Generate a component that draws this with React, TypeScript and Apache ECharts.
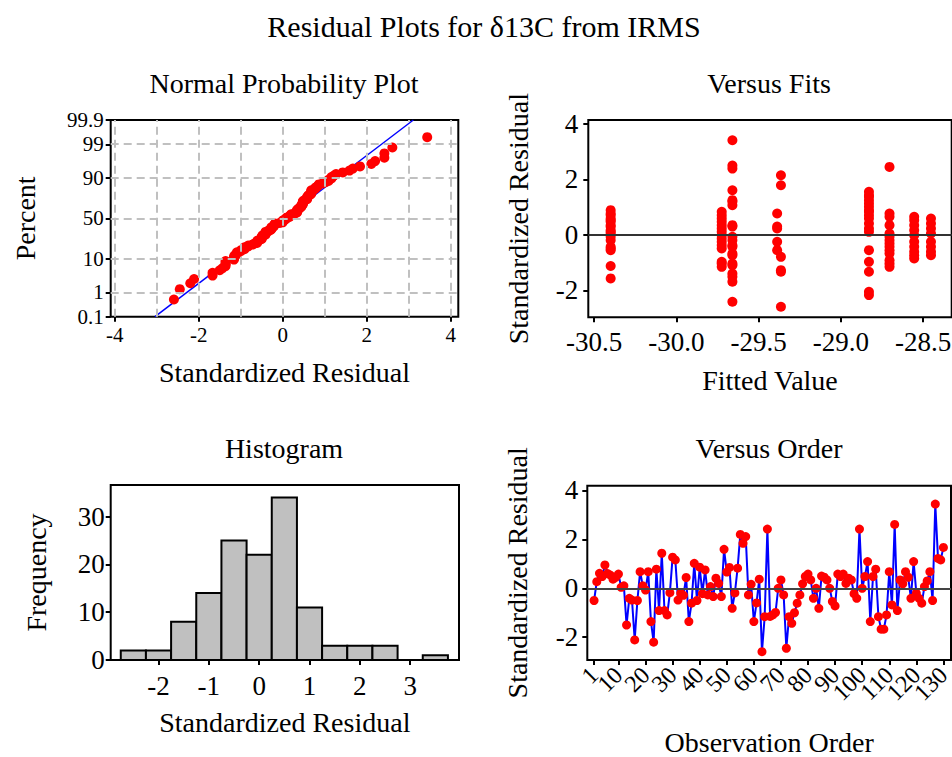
import React, { useEffect, useRef } from "react";
import * as echarts from "echarts";

const FONT = '"Liberation Serif", "Times New Roman", serif';

const mainTitle = "Residual Plots for δ13C from IRMS";
const panelTitles = ["Normal Probability Plot", "Versus Fits", "Histogram", "Versus Order"];

// Standardized residuals in observation order (1..130)
const orderResiduals = [
  -0.5, 0.27, 0.61, 0.48, 0.95, 0.6, 0.54, 0.37, 0.45, 0.58,
  0.04, 0.1, -1.5, -0.41, -0.48, -2.11, -0.5, 0.68, 0.1, -0.07,
  0.68, -1.36, -2.2, 0.78, -0.91, 1.43, -0.91, -1.09, -0.18, 1.27,
  1.16, -0.48, -0.2, -0.29, 0.44, -1.36, -0.61, 1.02, -0.5, 0.86,
  -0.22, 0.75, -0.27, 0.07, -0.34, 0.41, 0.2, -0.34, 1.59, 0.66,
  0.85, -0.82, -0.19, 0.82, 2.2, 1.84, 2.11, -0.27, 0.16, -1.36,
  -0.6, 0.37, -2.59, -1.16, 2.42, -1.15, -1.09, -0.99, 0.0, 0.34,
  -0.27, -2.45, -1.16, -1.43, -1.0, -0.61, -0.27, 0.18, 0.48, 0.58,
  0.34, -0.41, 0.0, -0.82, 0.5, 0.45, 0.34, 0.0, -0.54, -0.72,
  0.58, 0.48, 0.58, 0.2, 0.41, 0.34, -0.22, -0.41, 2.42, 0.0,
  0.48, 1.09, -1.36, 0.48, 0.78, -1.16, -1.67, -1.67, -1.09, 0.68,
  -0.68, 2.61, -0.91, 0.34, 0.18, 0.68, 0.45, -0.41, 1.09, -0.2,
  -0.41, -0.61, 0.07, 0.3, 0.68, -0.5, 3.44, 1.22, 1.16, 1.67,
];
const orderTicks = [1, 10, 20, 30, 40, 50, 60, 70, 80, 90, 100, 110, 120, 130];
const residualTicks = [-2, 0, 2, 4];

// Versus fits: fitted value of each column and the residuals in it
const fittedGroups = [-30.4, -29.725, -29.66, -29.388, -29.365, -28.83, -28.705, -28.555, -28.453];
const fittedGroupResiduals = [
  [0.89, 0.77, 0.71, 0.59, 0.53, 0.47, 0.35, 0.29, 0.17, 0.11, 0.05, -0.07, -0.19, -0.43, -0.49, -0.55, -1.12, -1.57],
  [0.83, 0.71, 0.59, 0.47, 0.35, 0.23, 0.11, -0.01, -0.13, -0.25, -0.37, -0.49, -0.97, -1.03, -1.15],
  [3.41, 2.5, 2.39, 1.61, 1.25, 1.19, 1.07, 0.35, 0.3, -0.07, -0.19, -0.37, -0.43, -0.67, -0.73, -1.03, -1.09, -1.39, -1.51, -1.69, -2.41],
  [0.77, 0.3, 0.23, -0.25, -0.55],
  [2.15, 1.79, -0.79, -1.27, -1.33, -2.59],
  [1.55, 1.43, 1.37, 1.25, 1.13, 1.01, 0.89, 0.83, 0.71, 0.59, 0.41, 0.23, 0.11, -0.55, -0.97, -1.33, -2.05, -2.17],
  [2.45, 0.77, 0.65, 0.35, 0.05, -0.07, -0.19, -0.31, -0.43, -0.55, -0.67, -0.91, -1.03, -1.15],
  [0.65, 0.53, 0.35, 0.17, -0.01, -0.25, -0.43, -0.61, -0.73, -0.85],
  [0.59, 0.41, 0.23, 0.05, -0.25, -0.43, -0.61, -0.73],
];
const fittedTicks = [-30.5, -30.0, -29.5, -29.0, -28.5];

// Histogram
const histBinCenters = [-2.5, -2, -1.5, -1, -0.5, 0, 0.5, 1, 1.5, 2, 2.5, 3, 3.5];
const histCounts = [2, 2, 8, 14, 25, 22, 34, 11, 3, 3, 3, 0, 1];
const histBinWidth = 0.5;
const histXTicks = [-2, -1, 0, 1, 2, 3];
const histYTicks = [0, 10, 20, 30];

// Normal probability plot
const nppXTicks = [-4, -2, 0, 2, 4];
const nppXGrid = [-4, -3, -2, -1, 0, 1, 2, 3, 4];
const nppPercentTicks = [0.1, 1, 10, 50, 90, 99, 99.9];
const nppPercentGrid = [1, 10, 50, 90, 99];
const nppFitLine = [
  [-3.04, 0.1],
  [3.11, 99.9],
]; // [residual, percent]

function probit(p: number): number {
  const a = [-39.69683028665376, 220.9460984245205, -275.9285104469687, 138.357751867269, -30.66479806614716, 2.506628277459239];
  const b = [-54.47609879822406, 161.5858368580409, -155.6989798598866, 66.80131188771972, -13.28068155288572];
  const c = [-0.007784894002430293, -0.3223964580411365, -2.400758277161838, -2.549732539343734, 4.374664141464968, 2.938163982698783];
  const d = [0.007784695709041462, 0.3224671290700398, 2.445134137142996, 3.754408661907416];
  const pl = 0.02425;
  if (p < pl) {
    const q = Math.sqrt(-2 * Math.log(p));
    return (((((c[0] * q + c[1]) * q + c[2]) * q + c[3]) * q + c[4]) * q + c[5]) / ((((d[0] * q + d[1]) * q + d[2]) * q + d[3]) * q + 1);
  }
  if (p > 1 - pl) {
    const q = Math.sqrt(-2 * Math.log(1 - p));
    return -(((((c[0] * q + c[1]) * q + c[2]) * q + c[3]) * q + c[4]) * q + c[5]) / ((((d[0] * q + d[1]) * q + d[2]) * q + d[3]) * q + 1);
  }
  const q = p - 0.5;
  const r = q * q;
  return ((((((a[0] * r + a[1]) * r + a[2]) * r + a[3]) * r + a[4]) * r + a[5]) * q) / (((((b[0] * r + b[1]) * r + b[2]) * r + b[3]) * r + b[4]) * r + 1);
}

const tickStyle = { show: true, inside: false, length: 5, lineStyle: { color: "#000", width: 2 } };
const nameStyle = { color: "#000", fontFamily: FONT, fontSize: 28 };
const noLine = { show: false, onZero: false };

export default function App() {
  const ref = useRef<HTMLDivElement>(null);

  useEffect(() => {
    document.body.style.margin = "0";
    if (!ref.current) return;
    const chart = echarts.init(ref.current, undefined, { renderer: "svg" });

    const n = orderResiduals.length;
    const sorted = [...orderResiduals].sort((x, y) => x - y);
    const nppPoints = sorted.map((r, i) => [r, probit((i + 1 - 0.3) / (n + 0.4))]);
    const nppYTickZ = nppPercentTicks.map((p) => probit(p / 100));
    const zMin = nppYTickZ[0];
    const zMax = nppYTickZ[nppYTickZ.length - 1];
    // split labels over two overlaid axes so close labels are never dropped
    const nppYZa = nppYTickZ.filter((_, i) => i % 2 === 0);
    const nppYZb = nppYTickZ.filter((_, i) => i % 2 === 1);
    const orderTicksA = orderTicks.filter((_, i) => i % 2 === 0);
    const orderTicksB = orderTicks.filter((_, i) => i % 2 === 1);

    const fitsPoints: number[][] = [];
    fittedGroups.forEach((fx, gi) => {
      fittedGroupResiduals[gi].forEach((r) => fitsPoints.push([fx, r]));
    });

    const orderPoints = orderResiduals.map((r, i) => [i + 1, r]);
    const histData = histBinCenters.map((c, i) => [c, histCounts[i]]);

    const gridBase = { show: true, borderColor: "#000", borderWidth: 2, backgroundColor: "transparent", containLabel: false, outerBoundsMode: "none" };

    const labelStyle = (fontSize: number, margin: number) => ({
      color: "#000", fontFamily: FONT, fontSize, margin, showMinLabel: true, showMaxLabel: true, hideOverlap: false,
    });

    const percentFormatter = (v: number) => {
      let best = 0;
      nppYTickZ.forEach((z, i) => { if (Math.abs(z - v) < Math.abs(nppYTickZ[best] - v)) best = i; });
      return String(nppPercentTicks[best]);
    };

    const option: any = {
      animation: false,
      backgroundColor: "#fff",
      graphic: [
        { type: "text", x: 484, y: 26, style: { text: mainTitle, fontSize: 30, fontFamily: FONT, fill: "#000", align: "center", verticalAlign: "middle" } },
        { type: "text", x: 284, y: 83, style: { text: panelTitles[0], fontSize: 28, fontFamily: FONT, fill: "#000", align: "center", verticalAlign: "middle" } },
        { type: "text", x: 769, y: 83, style: { text: panelTitles[1], fontSize: 28, fontFamily: FONT, fill: "#000", align: "center", verticalAlign: "middle" } },
        { type: "text", x: 284, y: 448, style: { text: panelTitles[2], fontSize: 28, fontFamily: FONT, fill: "#000", align: "center", verticalAlign: "middle" } },
        { type: "text", x: 769, y: 448, style: { text: panelTitles[3], fontSize: 28, fontFamily: FONT, fill: "#000", align: "center", verticalAlign: "middle" } },
      ],
      grid: [
        { ...gridBase, left: 110.7, top: 120, width: 347.6, height: 196.7 },
        { ...gridBase, left: 588.3, top: 120, width: 363.4, height: 197.3 },
        { ...gridBase, left: 110.7, top: 485, width: 348.3, height: 175 },
        { ...gridBase, left: 587.3, top: 485.7, width: 363.7, height: 174.3 },
      ],
      xAxis: [
        {
          gridIndex: 0, type: "value", min: -4.095, max: 4.18,
          axisLine: noLine, splitLine: { show: false },
          axisTick: { ...tickStyle, customValues: nppXTicks },
          axisLabel: { ...labelStyle(21, 8), customValues: nppXTicks },
          name: "Standardized Residual", nameLocation: "middle", nameGap: 42, nameTextStyle: nameStyle,
        },
        {
          gridIndex: 1, type: "value", min: -30.536, max: -28.327,
          axisLine: noLine, splitLine: { show: false },
          axisTick: { ...tickStyle, customValues: fittedTicks },
          axisLabel: { ...labelStyle(27, 11), customValues: fittedTicks, formatter: (v: number) => v.toFixed(1) },
          name: "Fitted Value", nameLocation: "middle", nameGap: 49, nameTextStyle: nameStyle,
        },
        {
          gridIndex: 2, type: "value", min: -2.95, max: 3.97,
          axisLine: noLine, splitLine: { show: false },
          axisTick: { ...tickStyle, customValues: histXTicks },
          axisLabel: { ...labelStyle(27, 12), customValues: histXTicks },
          name: "Standardized Residual", nameLocation: "middle", nameGap: 48, nameTextStyle: nameStyle,
        },
        {
          gridIndex: 3, type: "value", min: -1.5, max: 132.8,
          axisLine: noLine, splitLine: { show: false },
          axisTick: { ...tickStyle, customValues: orderTicks },
          axisLabel: { ...labelStyle(24, 11), customValues: orderTicksA, rotate: 45 },
          name: "Observation Order", nameLocation: "middle", nameGap: 68, nameTextStyle: nameStyle,
        },
        {
          gridIndex: 3, type: "value", min: -1.5, max: 132.8, position: "bottom", offset: 0,
          axisLine: noLine, splitLine: { show: false }, axisTick: { show: false },
          axisLabel: { ...labelStyle(24, 11), customValues: orderTicksB, rotate: 45 },
        },
      ],
      yAxis: [
        {
          gridIndex: 0, type: "value", min: zMin, max: zMax,
          axisLine: noLine, splitLine: { show: false },
          axisTick: { ...tickStyle, customValues: nppYTickZ },
          axisLabel: { ...labelStyle(21, 7), customValues: nppYZa, formatter: percentFormatter },
          name: "Percent", nameLocation: "middle", nameGap: 71, nameTextStyle: nameStyle,
        },
        {
          gridIndex: 1, type: "value", min: -2.97, max: 4.14,
          axisLine: noLine, splitLine: { show: false },
          axisTick: { ...tickStyle, customValues: residualTicks },
          axisLabel: { ...labelStyle(27, 10), customValues: residualTicks },
          name: "Standardized Residual", nameLocation: "middle", nameGap: 56, nameTextStyle: nameStyle,
        },
        {
          gridIndex: 2, type: "value", min: 0, max: 36.6,
          axisLine: noLine, splitLine: { show: false },
          axisTick: { ...tickStyle, customValues: histYTicks },
          axisLabel: { ...labelStyle(27, 6), customValues: histYTicks },
          name: "Frequency", nameLocation: "middle", nameGap: 60, nameTextStyle: nameStyle,
        },
        {
          gridIndex: 3, type: "value", min: -2.93, max: 4.19,
          axisLine: noLine, splitLine: { show: false },
          axisTick: { ...tickStyle, customValues: residualTicks },
          axisLabel: { ...labelStyle(27, 9), customValues: residualTicks },
          name: "Standardized Residual", nameLocation: "middle", nameGap: 56, nameTextStyle: nameStyle,
        },
        {
          gridIndex: 0, type: "value", min: zMin, max: zMax, position: "left", offset: 0,
          axisLine: noLine, splitLine: { show: false }, axisTick: { show: false },
          axisLabel: { ...labelStyle(21, 7), customValues: nppYZb, formatter: percentFormatter },
        },
      ],
      series: [
        {
          type: "scatter", xAxisIndex: 0, yAxisIndex: 0, data: [], z: 1, silent: true,
          markLine: {
            silent: true, symbol: ["none", "none"], label: { show: false },
            lineStyle: { color: "#c0c0c0", width: 2, type: [8, 5] },
            data: [
              ...nppXGrid.map((x) => ({ xAxis: x })),
              ...nppPercentGrid.map((p) => ({ yAxis: probit(p / 100) })),
            ],
          },
        },
        {
          type: "line", xAxisIndex: 0, yAxisIndex: 0, z: 2, silent: true,
          data: nppFitLine.map(([r, p]) => [r, probit(p / 100)]),
          symbol: "none", lineStyle: { color: "#0000ff", width: 1.5 },
        },
        {
          type: "scatter", xAxisIndex: 0, yAxisIndex: 0, z: 3, silent: true,
          data: nppPoints, symbol: "circle", symbolSize: 10, itemStyle: { color: "#ff0000", opacity: 1 },
        },
        {
          type: "scatter", xAxisIndex: 1, yAxisIndex: 1, z: 3, silent: true,
          data: fitsPoints, symbol: "circle", symbolSize: 10, itemStyle: { color: "#ff0000", opacity: 1 },
          markLine: {
            silent: true, symbol: ["none", "none"], label: { show: false },
            lineStyle: { color: "#333", width: 2, type: "solid" },
            data: [{ yAxis: 0 }],
          },
        },
        {
          type: "custom", xAxisIndex: 2, yAxisIndex: 2, silent: true,
          data: histData,
          encode: { x: 0, y: 1 },
          renderItem: (params: any, api: any) => {
            const c = api.value(0);
            const h = api.value(1);
            const p0 = api.coord([c - histBinWidth / 2, 0]);
            const p1 = api.coord([c + histBinWidth / 2, h]);
            return {
              type: "rect",
              shape: { x: p0[0], y: p1[1], width: p1[0] - p0[0], height: p0[1] - p1[1] },
              style: { fill: "#c0c0c0", stroke: "#000", lineWidth: 2 },
            };
          },
        },
        {
          type: "line", xAxisIndex: 3, yAxisIndex: 3, z: 3, silent: true,
          data: orderPoints, symbol: "circle", symbolSize: 9, showAllSymbol: true,
          lineStyle: { color: "#0000ff", width: 2 },
          itemStyle: { color: "#ff0000", opacity: 1 },
          markLine: {
            silent: true, symbol: ["none", "none"], label: { show: false },
            lineStyle: { color: "#444", width: 2, type: "solid" },
            data: [{ yAxis: 0 }],
          },
        },
      ],
    };

    chart.setOption(option);
    return () => chart.dispose();
  }, []);

  return <div ref={ref} style={{ width: 952, height: 757 }} />;
}
